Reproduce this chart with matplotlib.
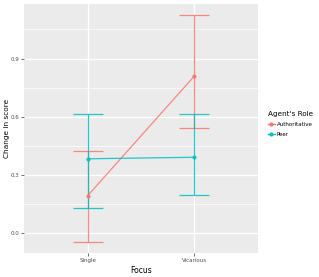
import numpy as np
import matplotlib
matplotlib.use("Agg")
import matplotlib.pyplot as plt
from matplotlib.lines import Line2D

# data
focus = ["Single", "Vicarious"]
roles = ["Authoritative", "Peer"]
auth_mean = [0.195, 0.809]
auth_lo = [-0.046, 0.543]
auth_hi = [0.425, 1.123]
peer_mean = [0.384, 0.392]
peer_lo = [0.132, 0.197]
peer_hi = [0.615, 0.615]
yticks = [0.0, 0.3, 0.6, 0.9]

colors = ["#F8766D", "#00BFC4"]

fig = plt.figure(figsize=(3.19, 2.77), dpi=100)
ax = fig.add_axes([24 / 319, 1 - 253 / 277, 234 / 319, 249 / 277])
ax.set_facecolor("#EBEBEB")

x = np.arange(1, len(focus) + 1)
series = [(auth_mean, auth_lo, auth_hi), (peer_mean, peer_lo, peer_hi)]
for (m, lo, hi), c in zip(series, colors):
    m = np.array(m)
    yerr = [m - np.array(lo), np.array(hi) - m]
    ax.errorbar(x, m, yerr=yerr, color=c, lw=0.9, capsize=11, capthick=0.9,
                marker="o", ms=2, zorder=3, alpha=0.85)

ax.set_xlim(0.4, 2.6)
ax.set_ylim(-0.101, 1.181)
ax.set_xticks(x)
ax.set_xticklabels(focus)
ax.set_yticks(yticks)
ax.set_yticklabels([f"{v:.1f}" for v in yticks])
ax.set_yticks([0.15, 0.45, 0.75, 1.05], minor=True)
ax.grid(True, which="major", color="white", lw=1.0)
ax.grid(True, which="minor", axis="y", color="white", lw=0.5)
ax.set_axisbelow(True)
for s in ax.spines.values():
    s.set_visible(False)
ax.tick_params(axis="both", which="major", labelsize=4, labelcolor="#4D4D4D",
               color="#333333", length=2, width=0.5, pad=1.5)
ax.tick_params(axis="both", which="minor", length=0)
ax.set_xlabel("Focus", fontsize=5.5, labelpad=2)
ax.set_ylabel("Change in score", fontsize=5.3)
ax.yaxis.set_label_coords(-14 / 234, 0.5)

handles = [Line2D([0], [0], color=c, lw=1.0, marker="o", ms=2) for c in colors]
leg = fig.legend(handles, roles, title="Agent's Role", loc="upper left",
                 bbox_to_anchor=(264 / 319, 1 - 107 / 277), frameon=False,
                 fontsize=4, title_fontsize=5.2, handlelength=1.2,
                 handletextpad=0.4, labelspacing=0.9, borderpad=0.2)
leg._legend_box.align = "left"

fig.savefig("out.png", dpi=100)
